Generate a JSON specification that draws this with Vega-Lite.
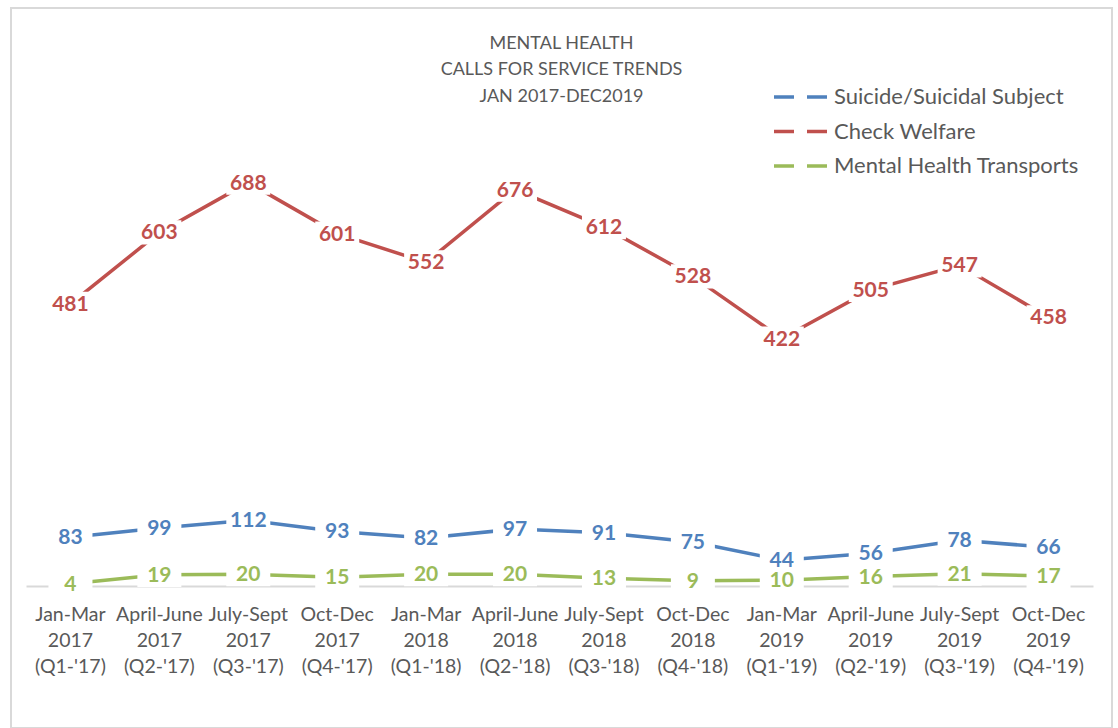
{
  "$schema": "https://vega.github.io/schema/vega-lite/v6.json",
  "width": 1101,
  "height": 720,
  "autosize": {"type": "none"},
  "padding": {"left": 11, "top": 8, "right": 6, "bottom": 0},
  "background": "white",
  "config": {
    "view": {"stroke": "#D9D9D9", "strokeWidth": 2},
    "font": "Lato"
  },
  "title": {
    "text": ["MENTAL HEALTH", "CALLS FOR SERVICE TRENDS", "JAN 2017-DEC2019"],
    "font": "Lato",
    "fontSize": 18,
    "fontWeight": "normal",
    "color": "#595959",
    "lineHeight": 26.5,
    "baseline": "middle",
    "frame": "group",
    "anchor": "middle",
    "offset": -106.5
  },
  "data": {
    "values": [
      {"quarter": "Jan-Mar|2017|(Q1-'17)", "series": "Suicide/Suicidal Subject", "value": 83},
      {"quarter": "April-June|2017|(Q2-'17)", "series": "Suicide/Suicidal Subject", "value": 99},
      {"quarter": "July-Sept|2017|(Q3-'17)", "series": "Suicide/Suicidal Subject", "value": 112},
      {"quarter": "Oct-Dec|2017|(Q4-'17)", "series": "Suicide/Suicidal Subject", "value": 93},
      {"quarter": "Jan-Mar|2018|(Q1-'18)", "series": "Suicide/Suicidal Subject", "value": 82},
      {"quarter": "April-June|2018|(Q2-'18)", "series": "Suicide/Suicidal Subject", "value": 97},
      {"quarter": "July-Sept|2018|(Q3-'18)", "series": "Suicide/Suicidal Subject", "value": 91},
      {"quarter": "Oct-Dec|2018|(Q4-'18)", "series": "Suicide/Suicidal Subject", "value": 75},
      {"quarter": "Jan-Mar|2019|(Q1-'19)", "series": "Suicide/Suicidal Subject", "value": 44},
      {"quarter": "April-June|2019|(Q2-'19)", "series": "Suicide/Suicidal Subject", "value": 56},
      {"quarter": "July-Sept|2019|(Q3-'19)", "series": "Suicide/Suicidal Subject", "value": 78},
      {"quarter": "Oct-Dec|2019|(Q4-'19)", "series": "Suicide/Suicidal Subject", "value": 66},
      {"quarter": "Jan-Mar|2017|(Q1-'17)", "series": "Check Welfare", "value": 481},
      {"quarter": "April-June|2017|(Q2-'17)", "series": "Check Welfare", "value": 603},
      {"quarter": "July-Sept|2017|(Q3-'17)", "series": "Check Welfare", "value": 688},
      {"quarter": "Oct-Dec|2017|(Q4-'17)", "series": "Check Welfare", "value": 601},
      {"quarter": "Jan-Mar|2018|(Q1-'18)", "series": "Check Welfare", "value": 552},
      {"quarter": "April-June|2018|(Q2-'18)", "series": "Check Welfare", "value": 676},
      {"quarter": "July-Sept|2018|(Q3-'18)", "series": "Check Welfare", "value": 612},
      {"quarter": "Oct-Dec|2018|(Q4-'18)", "series": "Check Welfare", "value": 528},
      {"quarter": "Jan-Mar|2019|(Q1-'19)", "series": "Check Welfare", "value": 422},
      {"quarter": "April-June|2019|(Q2-'19)", "series": "Check Welfare", "value": 505},
      {"quarter": "July-Sept|2019|(Q3-'19)", "series": "Check Welfare", "value": 547},
      {"quarter": "Oct-Dec|2019|(Q4-'19)", "series": "Check Welfare", "value": 458},
      {"quarter": "Jan-Mar|2017|(Q1-'17)", "series": "Mental Health Transports", "value": 4},
      {"quarter": "April-June|2017|(Q2-'17)", "series": "Mental Health Transports", "value": 19},
      {"quarter": "July-Sept|2017|(Q3-'17)", "series": "Mental Health Transports", "value": 20},
      {"quarter": "Oct-Dec|2017|(Q4-'17)", "series": "Mental Health Transports", "value": 15},
      {"quarter": "Jan-Mar|2018|(Q1-'18)", "series": "Mental Health Transports", "value": 20},
      {"quarter": "April-June|2018|(Q2-'18)", "series": "Mental Health Transports", "value": 20},
      {"quarter": "July-Sept|2018|(Q3-'18)", "series": "Mental Health Transports", "value": 13},
      {"quarter": "Oct-Dec|2018|(Q4-'18)", "series": "Mental Health Transports", "value": 9},
      {"quarter": "Jan-Mar|2019|(Q1-'19)", "series": "Mental Health Transports", "value": 10},
      {"quarter": "April-June|2019|(Q2-'19)", "series": "Mental Health Transports", "value": 16},
      {"quarter": "July-Sept|2019|(Q3-'19)", "series": "Mental Health Transports", "value": 21},
      {"quarter": "Oct-Dec|2019|(Q4-'19)", "series": "Mental Health Transports", "value": 17}
    ]
  },
  "encoding": {
    "x": {
      "field": "quarter",
      "type": "nominal",
      "sort": null,
      "scale": {"type": "band", "range": [15, 1082], "paddingInner": 0, "paddingOuter": 0},
      "axis": {
        "title": null,
        "offset": -142,
        "ticks": false,
        "domainColor": "#D9D9D9",
        "domainWidth": 2,
        "labelAngle": 0,
        "labelExpr": "split(datum.label, '|')",
        "labelFont": "Lato",
        "labelFontSize": 19.5,
        "labelColor": "#595959",
        "labelLineHeight": 26,
        "labelPadding": 19,
        "labelOverlap": false,
        "labelBound": false,
        "grid": false
      }
    },
    "y": {
      "field": "value",
      "type": "quantitative",
      "scale": {"domain": [-242.2, 985.8], "nice": false, "zero": false},
      "axis": null
    },
    "color": {
      "field": "series",
      "type": "nominal",
      "sort": null,
      "scale": {
        "domain": ["Suicide/Suicidal Subject", "Check Welfare", "Mental Health Transports"],
        "range": ["#4F81BD", "#C0504D", "#9BBB59"]
      }
    }
  },
  "layer": [
    {
      "mark": {"type": "line", "strokeWidth": 3.5, "strokeCap": "round"},
      "encoding": {
        "color": {
          "field": "series",
          "type": "nominal",
          "sort": null,
          "scale": {
            "domain": ["Suicide/Suicidal Subject", "Check Welfare", "Mental Health Transports"],
            "range": ["#4F81BD", "#C0504D", "#9BBB59"]
          },
          "legend": {
            "title": null,
            "orient": "none",
            "legendX": 778,
            "legendY": 77,
            "padding": 0,
            "symbolType": "M-2.7,0H2.7",
            "symbolSize": 400,
            "symbolStrokeWidth": 3.5,
            "symbolDash": [20, 13],
            "symbolFillColor": "transparent",
            "labelFont": "Lato",
            "labelFontSize": 22,
            "labelColor": "#595959",
            "labelOffset": 21,
            "rowPadding": 11.5,
            "labelLimit": 400
          }
        }
      }
    },
    {
      "mark": {
        "type": "point",
        "shape": "M-1,-0.55H1V0.55H-1Z",
        "size": 1936,
        "filled": true,
        "fill": "white",
        "color": "white",
        "opacity": 1,
        "strokeWidth": 0
      },
      "encoding": {"color": {"value": "white"}}
    },
    {
      "mark": {
        "type": "text",
        "font": "Lato",
        "fontSize": 21,
        "fontWeight": "bold",
        "baseline": "middle",
        "align": "center",
        "dy": 1
      },
      "encoding": {
        "text": {"field": "value", "type": "quantitative"},
        "color": {
          "field": "series",
          "type": "nominal",
          "sort": null,
          "legend": null
        }
      }
    }
  ]
}
